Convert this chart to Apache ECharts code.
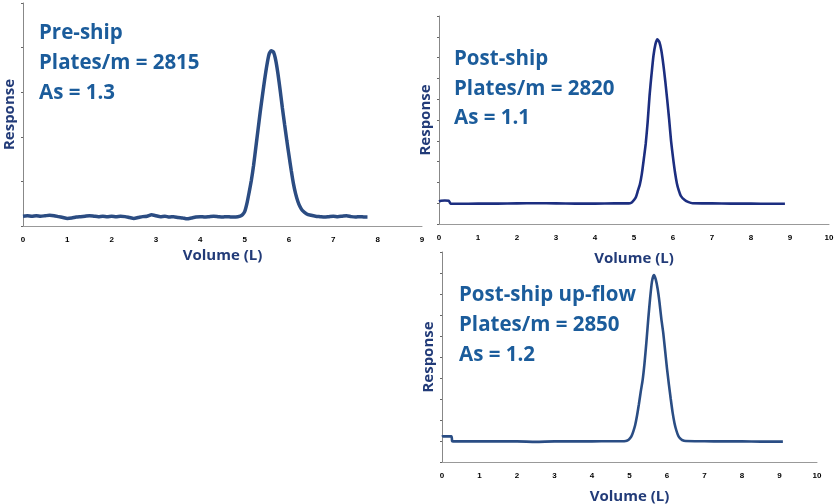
<!DOCTYPE html>
<html>
<head>
<meta charset="utf-8">
<script src="https://cdn.jsdelivr.net/npm/echarts@6.0.0/dist/echarts.min.js"></script>
<style>
html,body{margin:0;padding:0;background:#fff;}
#c{width:837px;height:504px;}
</style>
</head>
<body>
<div id="c"></div>
<script>
// ---- data (Volume L, Response) ----
var preShip = [
  [0.0,0.22],[0.1,0.23],[0.2,0.22],[0.3,0.23],[0.4,0.22],[0.5,0.23],[0.6,0.24],[0.7,0.23],[0.8,0.21],[0.9,0.19],
  [1.0,0.17],[1.1,0.18],[1.2,0.20],[1.3,0.21],[1.4,0.22],[1.5,0.23],[1.6,0.22],[1.7,0.21],[1.8,0.22],[1.9,0.21],
  [2.0,0.22],[2.1,0.21],[2.2,0.22],[2.3,0.21],[2.4,0.19],[2.5,0.17],[2.6,0.19],[2.7,0.21],[2.8,0.22],[2.9,0.25],
  [3.0,0.23],[3.1,0.21],[3.2,0.22],[3.3,0.20],[3.4,0.21],[3.5,0.19],[3.6,0.18],[3.7,0.16],[3.8,0.18],[3.9,0.20],
  [4.0,0.21],[4.1,0.20],[4.2,0.21],[4.3,0.22],[4.4,0.21],[4.5,0.20],[4.6,0.21],[4.7,0.20],[4.8,0.20],
  [4.9,0.22],[4.95,0.25],[5.0,0.32],[5.05,0.50],[5.1,0.75],[5.15,1.02],[5.2,1.35],[5.25,1.75],[5.3,2.15],[5.35,2.55],
  [5.4,2.92],[5.45,3.28],[5.5,3.60],[5.55,3.85],[5.6,3.93],[5.65,3.90],[5.7,3.72],[5.75,3.42],[5.8,3.05],[5.85,2.65],
  [5.9,2.28],[5.95,1.92],[6.0,1.58],[6.05,1.25],[6.1,0.95],[6.15,0.72],[6.2,0.55],[6.25,0.43],[6.3,0.35],[6.4,0.27],
  [6.5,0.24],[6.6,0.22],[6.7,0.21],[6.8,0.20],[6.9,0.21],[7.0,0.22],[7.1,0.21],[7.2,0.22],[7.3,0.23],[7.4,0.21],
  [7.5,0.20],[7.6,0.21],[7.7,0.20],[7.77,0.20]
];
var postShip = [
  [0.0,1.08],[0.05,1.12],[0.15,1.13],[0.25,1.12],[0.28,1.02],[0.3,0.98],[0.5,0.97],[1.0,0.98],[1.5,0.98],[2.0,0.99],
  [2.5,1.00],[3.0,0.99],[3.5,0.98],[4.0,0.98],[4.5,0.99],[4.8,0.99],[4.9,1.00],[4.95,1.05],[5.0,1.15],[5.05,1.30],
  [5.1,1.60],[5.15,1.90],[5.2,2.40],[5.25,3.10],[5.3,3.85],[5.35,4.90],[5.4,6.20],[5.45,7.20],[5.5,8.10],[5.55,8.65],
  [5.6,8.88],[5.65,8.75],[5.7,8.35],[5.75,7.70],[5.8,6.90],[5.85,6.00],[5.9,5.05],[5.95,4.00],[6.0,3.20],[6.05,2.50],
  [6.1,1.95],[6.15,1.60],[6.2,1.35],[6.3,1.15],[6.4,1.05],[6.5,1.00],[7.0,0.99],[7.5,0.98],[8.0,0.98],[8.5,0.97],
  [8.87,0.97]
];
var upFlow = [
  [0.0,1.20],[0.02,1.22],[0.25,1.22],[0.27,1.00],[0.3,0.98],[0.5,0.98],[1.0,0.98],[1.5,0.98],[2.0,0.98],[2.5,0.96],
  [3.0,0.98],[3.5,0.98],[4.0,0.98],[4.5,0.99],[4.8,0.99],[4.9,1.00],[4.95,1.03],[5.0,1.10],[5.05,1.22],[5.1,1.45],
  [5.15,1.75],[5.2,2.20],[5.25,2.75],[5.3,3.35],[5.35,3.90],[5.4,4.70],[5.45,5.70],[5.5,6.80],[5.55,7.80],[5.6,8.60],
  [5.65,8.90],[5.7,8.70],[5.75,8.25],[5.8,7.60],[5.85,6.80],[5.9,6.15],[5.95,5.30],[6.0,4.45],[6.05,3.70],[6.1,3.00],
  [6.15,2.35],[6.2,1.85],[6.25,1.50],[6.3,1.25],[6.35,1.12],[6.4,1.05],[6.5,1.00],[7.0,0.99],[7.5,0.98],[8.0,0.98],
  [8.5,0.97],[9.09,0.97]
];
var xMax = [9, 10, 10];
var yMax = [5, 10, 10];
var labels = [
  ["Pre-ship", "Plates/m = 2815", "As = 1.3"],
  ["Post-ship", "Plates/m = 2820", "As = 1.1"],
  ["Post-ship up-flow", "Plates/m = 2850", "As = 1.2"]
];
var xName = "Volume (L)";
var yName = "Response";

// ---- layout ----
var grids = [
  {left:23, top:3, width:399, height:223},
  {left:439, top:16, width:390, height:208},
  {left:442, top:252, width:375, height:210}
];
var xNameGap = [22, 27, 27];
var lineColors = ['#2b4c82', '#1c2e80', '#2a4d84'];
var lineWidths = [3.5, 2.6, 2.6];
var textPos = [
  {x:39, y:[33.2, 63.2, 92.9]},
  {x:454, y:[59.6, 89.4, 118.2]},
  {x:459, y:[294.9, 324.9, 354.9]}
];

var series = [preShip, postShip, upFlow];
var xAxes = [], yAxes = [], ser = [], graphics = [];
for (var i = 0; i < 3; i++) {
  xAxes.push({
    gridIndex:i, type:'value', min:0, max:xMax[i], interval:1,
    axisLine:{show:true, lineStyle:{color:'#999', width:1}},
    axisTick:{show:false}, splitLine:{show:false},
    axisLabel:{fontSize:8, fontWeight:'bold', color:'#000', margin:10, fontFamily:'Liberation Sans'},
    name:xName, nameLocation:'middle', nameGap:xNameGap[i],
    nameTextStyle:{fontFamily:'Open Sans', fontWeight:'bold', fontSize:15, color:'#223b78'}
  });
  yAxes.push({
    gridIndex:i, type:'value', min:0, max:yMax[i], interval:1,
    axisLine:{show:true, lineStyle:{color:'#888', width:1}},
    axisTick:{show:true, length:2, inside:false, lineStyle:{color:'#666'}},
    splitLine:{show:false}, axisLabel:{show:false},
    name:yName, nameLocation:'middle', nameRotate:90, nameGap:6,
    nameTextStyle:{fontFamily:'Open Sans', fontWeight:'bold', fontSize:15, color:'#223b78'}
  });
  ser.push({
    type:'line', xAxisIndex:i, yAxisIndex:i, data:series[i],
    showSymbol:false, smooth:0.2, silent:true,
    lineStyle:{color:lineColors[i], width:lineWidths[i]}
  });
  for (var k = 0; k < 3; k++) {
    graphics.push({
      type:'text', x:textPos[i].x, y:textPos[i].y[k], silent:true,
      style:{text:labels[i][k], fill:'#1b5c9b', font:'bold 20.5px "Open Sans"', verticalAlign:'middle', align:'left'}
    });
  }
}
grids.forEach(function(g){ g.outerBoundsMode = 'none'; g.containLabel = false; });

var chart = echarts.init(document.getElementById('c'), null, {renderer:'canvas'});
chart.setOption({
  animation:false,
  backgroundColor:'#fff',
  grid:grids,
  xAxis:xAxes,
  yAxis:yAxes,
  series:ser,
  graphic:graphics
});
</script>
</body>
</html>
